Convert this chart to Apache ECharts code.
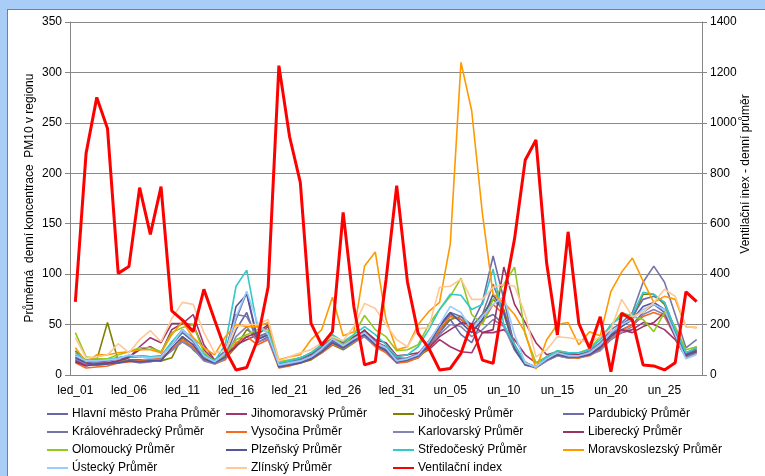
<!DOCTYPE html>
<html>
<head>
<meta charset="utf-8">
<script src="https://cdn.jsdelivr.net/npm/echarts@6/dist/echarts.min.js"></script>
<style>
  html, body { margin: 0; padding: 0; }
  body { width: 765px; height: 476px; background: #a9cdf7; position: relative; overflow: hidden; }
  #panel { position: absolute; left: 7px; top: 9px; width: 758px; height: 467px; background: #fff;
           border-top: 1px solid #7f7f7f; border-left: 1px solid #7f7f7f; box-sizing: border-box; }
  #chart { position: absolute; left: 0; top: 0; width: 765px; height: 476px; }
</style>
</head>
<body>
<div id="panel"></div>
<div id="chart"></div>
<script>
// Days of January (led) and February (un)
const days = [
  'led_01','led_02','led_03','led_04','led_05','led_06','led_07','led_08','led_09','led_10',
  'led_11','led_12','led_13','led_14','led_15','led_16','led_17','led_18','led_19','led_20',
  'led_21','led_22','led_23','led_24','led_25','led_26','led_27','led_28','led_29','led_30','led_31',
  'un_01','un_02','un_03','un_04','un_05','un_06','un_07','un_08','un_09','un_10',
  'un_11','un_12','un_13','un_14','un_15','un_16','un_17','un_18','un_19','un_20',
  'un_21','un_22','un_23','un_24','un_25','un_26','un_27','un_28'
];

// Daily mean PM10 per region
const praha = [15,10,11,12,12,15,15,14,15,25,33,27,15,12,18,45,62,32,38,10,12,14,18,25,34,28,35,40,30,25,13,14,17,28,42,55,40,32,55,60,50,25,10,8,15,20,18,18,20,25,38,45,50,62,70,62,40,20,25];
const jihomoravsky = [14,10,10,11,13,17,28,37,32,51,51,60,30,15,20,30,35,40,48,12,14,16,20,28,38,30,36,42,33,28,17,16,20,25,35,28,23,22,42,42,45,35,20,12,18,22,20,19,21,28,35,42,45,52,50,45,35,18,22];
const jihocesky = [24,14,15,52,14,14,13,15,14,17,38,25,16,12,16,28,45,38,42,8,10,12,15,22,30,25,32,45,30,24,12,14,18,26,45,55,58,48,60,75,65,30,12,8,15,20,18,17,20,26,40,50,55,80,80,70,45,22,26];
const pardubicky = [18,12,13,14,16,18,18,17,18,30,42,33,18,14,22,55,82,36,40,10,13,15,20,28,38,30,38,42,33,27,15,16,20,32,50,62,58,50,72,118,75,28,12,8,16,22,20,20,22,30,42,50,58,75,78,72,45,20,28];
const kralovehradecky = [20,13,14,15,17,19,19,18,19,32,45,35,20,15,24,60,58,38,42,11,13,16,20,27,36,30,36,40,32,27,15,17,21,34,48,60,55,48,60,90,62,27,11,8,17,23,21,20,24,32,45,52,62,92,108,92,60,27,35];
const vysocina = [12,7,8,9,12,13,14,15,17,25,35,28,17,11,15,32,38,30,35,7,9,12,16,22,30,27,32,38,28,22,12,13,17,28,45,58,55,45,52,70,60,28,13,7,14,19,17,17,19,25,36,44,50,58,62,58,38,18,24];
const karlovarsky = [16,11,12,12,13,14,12,13,16,24,33,26,14,11,16,38,48,33,36,9,11,13,17,24,32,26,33,38,29,24,13,15,18,30,40,50,48,38,45,55,48,25,10,7,14,19,17,18,20,24,35,42,48,60,65,60,38,17,22];
const liberecky = [13,9,11,12,14,18,25,28,22,45,51,50,25,14,20,28,38,42,50,12,14,17,21,30,36,32,38,44,35,32,19,20,22,27,38,45,52,50,42,45,107,70,52,32,20,23,22,20,22,28,40,45,42,48,52,62,38,20,23];
const olomoucky = [42,18,16,16,20,23,27,27,23,42,47,50,22,14,20,35,40,45,45,13,15,17,22,30,38,30,40,59,45,38,24,25,30,50,65,78,96,60,50,75,90,107,40,12,18,24,22,22,26,38,48,62,58,55,43,62,48,25,28];
const plzensky = [17,12,10,11,12,14,13,14,14,27,38,30,16,12,18,68,80,35,40,8,10,12,16,23,32,27,34,40,30,24,13,15,19,30,48,62,52,42,55,80,62,26,10,8,15,20,18,18,20,27,38,48,55,68,72,65,42,19,24];
const stredocesky = [22,15,15,15,17,19,19,18,18,33,44,37,20,14,30,88,104,47,42,12,14,17,22,30,40,33,40,48,40,30,18,20,28,45,65,80,79,65,70,105,50,30,12,8,18,24,22,22,25,35,50,58,60,82,80,72,45,22,27];
const moravskoslezsky = [27,13,20,20,22,23,25,25,22,40,53,37,27,20,38,50,48,48,52,15,18,20,35,45,77,39,43,108,122,55,25,28,50,63,72,130,310,262,160,80,72,60,42,6,35,50,52,30,43,39,83,102,116,93,72,78,75,48,47];
const ustecky = [19,14,14,15,16,20,18,17,18,30,45,35,19,13,22,58,83,52,40,10,12,14,18,26,36,29,36,42,32,27,14,16,20,33,50,68,62,45,58,70,78,40,12,8,16,22,19,19,22,30,42,50,55,65,70,65,40,16,20];
const zlinsky = [37,17,18,20,31,22,35,44,33,56,72,70,42,22,24,48,50,50,55,14,18,22,25,32,38,34,48,71,66,50,35,28,46,47,87,88,95,75,75,87,90,88,60,18,25,38,37,35,32,38,45,75,58,62,72,85,78,48,47];

// Daily mean ventilation index (right axis)
const ventilace = [290,879,1101,978,403,430,743,558,747,254,218,172,340,218,99,20,30,139,350,1227,945,764,205,119,172,645,271,40,53,377,751,370,165,106,20,26,86,205,59,46,310,540,853,932,443,159,568,205,106,231,13,245,218,40,36,20,49,330,291];

// Axis ticks
const leftTicks = { min: 0, max: 350, step: 50 };
const rightTicks = { min: 0, max: 1400, step: 200 };

const regions = [
  ['Hlavní město Praha Průměr', praha, '#6767a8'],
  ['Jihomoravský Průměr', jihomoravsky, '#a3346e'],
  ['Jihočeský Průměr', jihocesky, '#808000'],
  ['Pardubický Průměr', pardubicky, '#6d6dab'],
  ['Královéhradecký Průměr', kralovehradecky, '#7676a6'],
  ['Vysočina Průměr', vysocina, '#f46a1f'],
  ['Karlovarský Průměr', karlovarsky, '#8585b5'],
  ['Liberecký Průměr', liberecky, '#993366'],
  ['Olomoucký Průměr', olomoucky, '#92c91a'],
  ['Plzeňský Průměr', plzensky, '#55559c'],
  ['Středočeský Průměr', stredocesky, '#33c9c9'],
  ['Moravskoslezský Průměr', moravskoslezsky, '#ff9900'],
  ['Ústecký Průměr', ustecky, '#99ccff'],
  ['Zlínský Průměr', zlinsky, '#ffc896']
];
const ventName = 'Ventilační index';

const font = 'Liberation Sans, Arial, sans-serif';

const series = regions.map(([name, data, color]) => ({
  name, type: 'line', data, yAxisIndex: 0,
  showSymbol: false, symbol: 'none',
  lineStyle: { width: 1.6, color }, itemStyle: { color },
  emphasis: { disabled: true }, animation: false
}));
series.push({
  name: ventName, type: 'line', data: ventilace, yAxisIndex: 1,
  showSymbol: false, symbol: 'none', z: 5,
  lineStyle: { width: 3, color: '#ff0000' }, itemStyle: { color: '#ff0000' },
  emphasis: { disabled: true }, animation: false
});

// Four legend columns
const columns = [
  { left: 47, names: ['Hlavní město Praha Průměr', 'Královéhradecký Průměr', 'Olomoucký Průměr', 'Ústecký Průměr'] },
  { left: 226, names: ['Jihomoravský Průměr', 'Vysočina Průměr', 'Plzeňský Průměr', 'Zlínský Průměr'] },
  { left: 393, names: ['Jihočeský Průměr', 'Karlovarský Průměr', 'Středočeský Průměr', ventName] },
  { left: 563, names: ['Pardubický Průměr', 'Liberecký Průměr', 'Moravskoslezský Průměr'] }
];
const legends = columns.map(c => ({
  left: c.left, top: 408, orient: 'vertical', itemGap: 6, padding: 0,
  itemWidth: 21, itemHeight: 2, icon: 'rect', selectedMode: false,
  textStyle: { fontFamily: font, fontSize: 12, color: '#000', padding: [0, 0, 0, -1] },
  data: c.names
}));

const axisLineGray = '#868686';

const chart = echarts.init(document.getElementById('chart'), null, { renderer: 'canvas' });
chart.setOption({
  backgroundColor: 'transparent',
  animation: false,
  grid: { left: 70, right: 63, top: 22, bottom: 101, containLabel: false },
  legend: legends,
  xAxis: {
    type: 'category', data: days, boundaryGap: true,
    axisLine: { lineStyle: { color: axisLineGray, width: 1 } },
    axisTick: { interval: 4, length: 5, lineStyle: { color: axisLineGray } },
    axisLabel: { interval: 4, margin: 10, fontFamily: font, fontSize: 12, color: '#000' }
  },
  yAxis: [
    {
      type: 'value', min: leftTicks.min, max: leftTicks.max, interval: leftTicks.step, position: 'left',
      axisLine: { show: true, lineStyle: { color: axisLineGray } },
      axisTick: { show: true, length: 5, lineStyle: { color: axisLineGray } },
      axisLabel: { margin: 8, fontFamily: font, fontSize: 12, color: '#000', formatter: v => String(v) },
      splitLine: { show: true, lineStyle: { color: '#8a8a8a', width: 1 } }
    },
    {
      type: 'value', min: rightTicks.min, max: rightTicks.max, interval: rightTicks.step, position: 'right',
      axisLine: { show: true, lineStyle: { color: axisLineGray } },
      axisTick: { show: true, length: 5, lineStyle: { color: axisLineGray } },
      axisLabel: { margin: 8, fontFamily: font, fontSize: 12, color: '#000', formatter: v => String(v) },
      splitLine: { show: false }
    }
  ],
  graphic: [
    {
      type: 'text', x: 30, y: 198, rotation: Math.PI / 2,
      style: { text: 'Průměrná  denní koncentrace  PM10 v regionu', font: '12px ' + font,
               fill: '#000', align: 'center', verticalAlign: 'middle' }
    },
    {
      type: 'text', x: 746, y: 174, rotation: Math.PI / 2,
      style: { text: 'Ventilační inex - denní průměr', font: '12px ' + font,
               fill: '#000', align: 'center', verticalAlign: 'middle' }
    }
  ],
  series
});
</script>
</body>
</html>
